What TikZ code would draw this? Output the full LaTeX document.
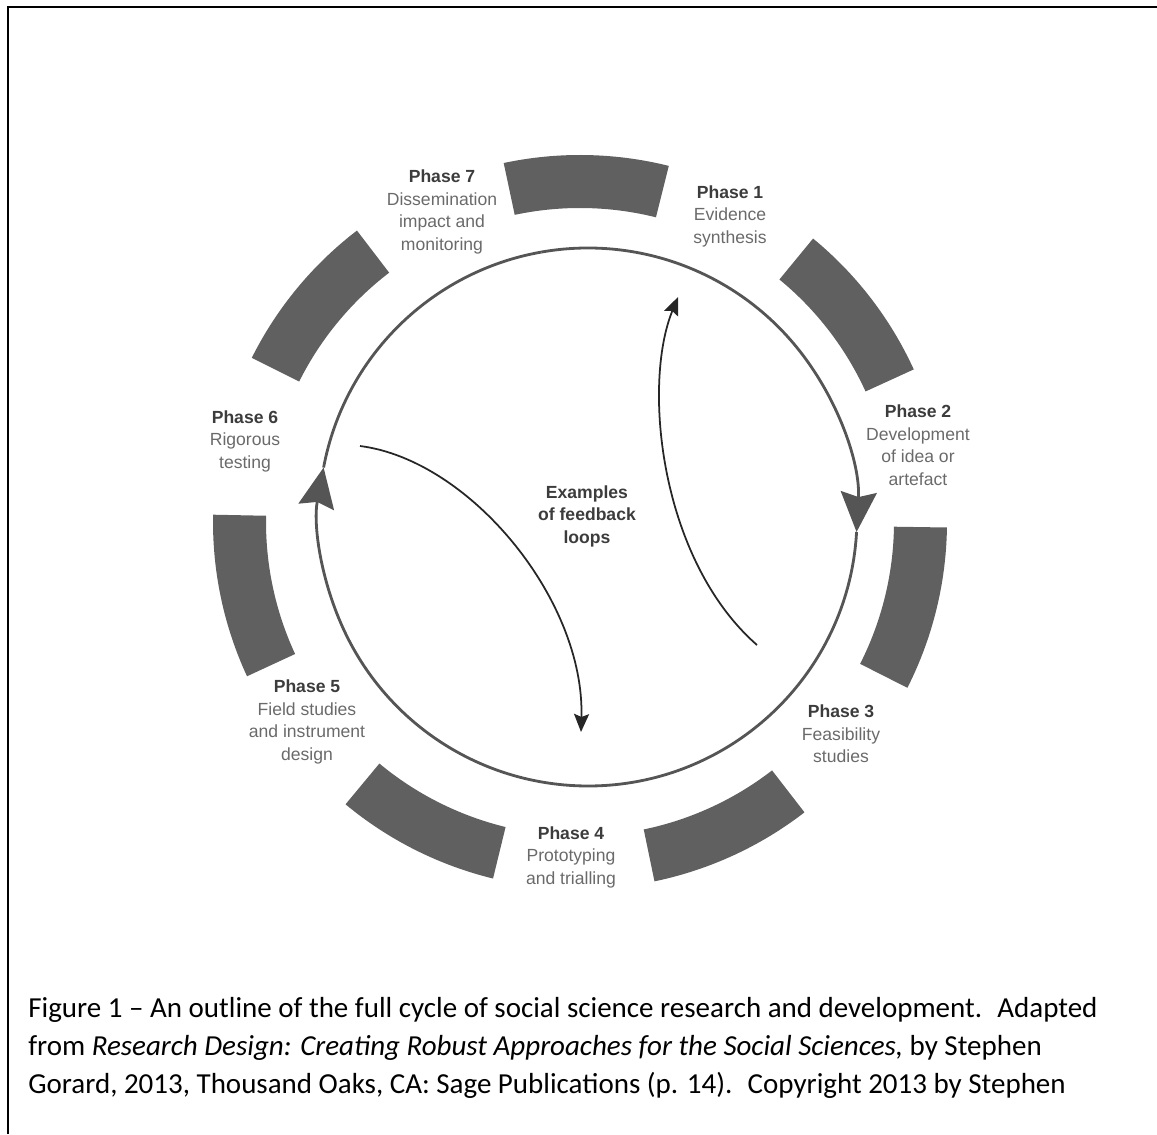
\documentclass[tikz,border=0pt]{standalone}
\usepackage{fontspec}
\setmainfont{Liberation Sans}
\newfontfamily\capfont{Carlito}
\usetikzlibrary{arrows.meta}
\definecolor{ringgray}{HTML}{606060}
\definecolor{linegray}{HTML}{555555}
\definecolor{textgray}{HTML}{6A6A6A}
\definecolor{headgray}{HTML}{3C3C3C}
\newcommand\phasehead[1]{\textcolor{headgray}{\textbf{#1}}}

\begin{document}
\begin{tikzpicture}[x=0.02cm, y=0.02cm,
  phase/.style={align=center, text=textgray, inner sep=0pt,
    font=\fontsize{10}{12.8}\selectfont},
  segment/.style={fill=ringgray},
  cycle line/.style={draw=linegray, line width=1.6pt},
  cycle tip/.style={-{Stealth[length=0.8cm, width=0.72cm, inset=0.1cm]}},
  loop line/.style={draw=black!85, line width=1pt,
    -{Stealth[length=0.36cm, width=0.3cm, inset=0.06cm]}},
  caption/.style={anchor=base west, inner sep=0pt,
    font=\capfont\fontsize{16.5}{19}\selectfont}]
  \useasboundingbox (0,0) rectangle (1157,1134);
  \draw [line width=0.04cm] (8,0) -- (8,1127) -- (1157,1127);
  \coordinate (ring) at (580,612);
  \coordinate (c) at (588,617);
  % the seven phase blocks
  \foreach \a in {89,37.57,-13.86,-65.29,-116.71,-168.14,140.43}
    \fill [segment, shift={(ring)}] ({\a+13}:314)
      arc [start angle=\a+13, end angle=\a-13, radius=314]
      -- ({\a-13}:367)
      arc [start angle=\a-13, end angle=\a+13, radius=367] -- cycle;
  % the cycle
  \begin{scope}[shift={(c)}]
    \draw [cycle line, cycle tip] (100:269) arc [start angle=100, end angle=-3.2, radius=269];
    \draw [cycle line, cycle tip] (-3.2:269) arc [start angle=-3.2, end angle=-190.6, radius=269];
    \draw [cycle line] (169.4:269) arc [start angle=169.4, end angle=100, radius=269];
  \end{scope}
  \node [phase] (ph_1) at (730,918) {\phasehead{Phase 1}\\Evidence\\synthesis};
  \node [phase] (ph_2) at (918,689) {\phasehead{Phase 2}\\Development\\of idea or\\artefact};
  \node [phase] (ph_3) at (841,400) {\phasehead{Phase 3}\\Feasibility\\studies};
  \node [phase] (ph_4) at (571,277) {\phasehead{Phase 4}\\Prototyping\\and trialling};
  \node [phase] (ph_5) at (307,412) {\phasehead{Phase 5}\\Field studies\\and instrument\\design};
  \node [phase] (ph_6) at (245,693) {\phasehead{Phase 6}\\Rigorous\\testing};
  \node [phase] (ph_7) at (442,922) {\phasehead{Phase 7}\\Dissemination\\impact and\\monitoring};
  \node [phase, text=headgray, font=\bfseries\fontsize{10}{12.8}\selectfont] (loops) at (587,618)
    {Examples\\of feedback\\loops};
  % feedback loops
  \coordinate (fa_start) at (360,688);
  \coordinate (fa_end) at (581,402);
  \coordinate (fb_start) at (757,489);
  \coordinate (fb_end) at (678,837);
  \draw [loop line] (fa_start) .. controls (470,674) and (585,534) .. (fa_end);
  \draw [loop line] (fb_start) .. controls (660,574) and (642,749) .. (fb_end);
  % caption
  \node [caption] (cap_1) at (28,117) {Figure 1 – An outline of the full cycle of social science research and development.~ Adapted};
  \node [caption] (cap_2) at (28,79) {from \textit{Research Design: Creating Robust Approaches for the Social Sciences,} by Stephen};
  \node [caption] (cap_3) at (28,41) {Gorard, 2013, Thousand Oaks, CA: Sage Publications (p. 14).~ Copyright 2013 by Stephen};
\end{tikzpicture}
\end{document}
